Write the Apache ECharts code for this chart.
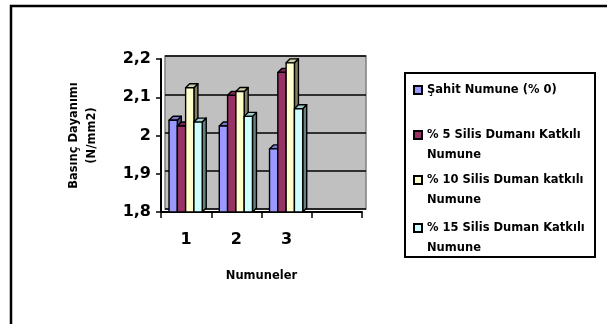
<!DOCTYPE html>
<html><head><meta charset="utf-8">
<script src="https://cdn.jsdelivr.net/npm/echarts@6/dist/echarts.min.js"></script>
<style>html,body{margin:0;padding:0;background:#fff}#c{width:607px;height:324px}</style>
</head><body><div id="c"></div>
<script>
var categories = ['1', '2', '3', ''];
var seriesNames = ['Şahit Numune (% 0)', '% 5 Silis Dumanı Katkılı Numune', '% 10 Silis Duman katkılı Numune', '% 15 Silis Duman Katkılı Numune'];
var legendLabels = ['Şahit Numune (% 0)', '\n% 5 Silis Dumanı Katkılı\nNumune', '\n% 10 Silis Duman katkılı\nNumune', '\n% 15 Silis Duman Katkılı\nNumune'];
var sahit = [2.04, 2.025, 1.965];
var silis5 = [2.025, 2.105, 2.165];
var silis10 = [2.125, 2.115, 2.19];
var silis15 = [2.035, 2.05, 2.07];
var yTickLabels = ['1,8', '1,9', '2', '2,1', '2,2'];
var yMin = 1.8, yMax = 2.2, yStep = 0.1;

var values = [sahit, silis5, silis10, silis15];
var faceColors = ['#9999FF', '#993366', '#FFFFCC', '#CCFFFF'];
var sideColors = ['#4D4D80', '#4D1A33', '#808066', '#668080'];
var topColors = ['#7A7ACC', '#7A2952', '#CCCCA3', '#A3CCCC'];
var FONT = '"DejaVu Sans", Arial, sans-serif';

function makeRender(si) {
  return function (params, api) {
    var ci = api.value(0), v = api.value(1);
    var p = api.coord([ci, v]);
    var b = api.coord([ci, yMin]);
    var bw = 8.3, d = 4;
    var x0 = p[0] - 2 * bw + si * bw - 0.5;
    var x1 = x0 + bw;
    var yt = p[1], yb = b[1];
    var st = { stroke: '#000', lineWidth: 1.4, lineJoin: 'round' };
    return {
      type: 'group',
      children: [
        { type: 'polygon', shape: { points: [[x1, yt], [x1 + d, yt - d], [x1 + d, yb - d], [x1, yb]] },
          style: Object.assign({ fill: sideColors[si] }, st) },
        { type: 'polygon', shape: { points: [[x0, yt], [x0 + d, yt - d], [x1 + d, yt - d], [x1, yt]] },
          style: Object.assign({ fill: topColors[si] }, st) },
        { type: 'rect', shape: { x: x0, y: yt, width: bw, height: yb - yt },
          style: Object.assign({ fill: faceColors[si] }, st) }
      ]
    };
  };
}

var series = values.map(function (arr, si) {
  return {
    type: 'custom',
    name: seriesNames[si],
    xAxisIndex: 1, yAxisIndex: 1,
    itemStyle: { color: faceColors[si], borderColor: '#000', borderWidth: 1 },
    renderItem: makeRender(si),
    encode: { x: 0, y: 1 },
    data: arr.map(function (v, i) { return [i, v]; }),
    clip: false
  };
});

var legendTops = [80, 105, 150, 198];
var legends = seriesNames.map(function (n, i) {
  return {
    data: [n],
    left: 413, top: legendTops[i],
    padding: 0,
    orient: 'vertical',
    icon: 'rect',
    itemWidth: 8, itemHeight: 8,
    selectedMode: false,
    formatter: function (name) { return legendLabels[seriesNames.indexOf(name)]; },
    textStyle: {
      fontFamily: FONT, fontWeight: 'bold', fontSize: 11.5, color: '#000', lineHeight: 20
    }
  };
});

var chart = echarts.init(document.getElementById('c'), null, { renderer: 'canvas' });
chart.setOption({
  animation: false,
  backgroundColor: '#fff',
  grid: [
    { left: 165, right: 241, top: 56, bottom: 115, show: true, backgroundColor: '#C0C0C0', borderColor: '#808080', borderWidth: 1.5 },
    { left: 161, right: 245, top: 59, bottom: 112 }
  ],
  xAxis: [
    { type: 'category', gridIndex: 0, data: categories, show: false },
    { type: 'category', gridIndex: 1, data: categories, boundaryGap: true,
      axisLine: { lineStyle: { color: '#000', width: 2 } },
      axisTick: { show: true, length: 6, interval: 0, lineStyle: { color: '#000', width: 1.5 } },
      axisLabel: { fontFamily: FONT, fontWeight: 'bold', fontSize: 16, color: '#000', margin: 20, interval: 0 },
      name: 'Numuneler', nameLocation: 'middle', nameGap: 58,
      nameTextStyle: { fontFamily: FONT, fontWeight: 'bold', fontSize: 11.5, color: '#000' }
    }
  ],
  yAxis: [
    { type: 'value', gridIndex: 0, min: yMin, max: yMax, interval: yStep,
      axisLine: { show: false }, axisTick: { show: false }, axisLabel: { show: false },
      splitLine: { show: true, lineStyle: { color: '#000', width: 1.5 } } },
    { type: 'value', gridIndex: 1, min: yMin, max: yMax, interval: yStep,
      axisLine: { show: true, lineStyle: { color: '#000', width: 2 } },
      axisTick: { show: true, length: 5, lineStyle: { color: '#000', width: 1.5 } },
      splitLine: { show: false },
      axisLabel: { fontFamily: FONT, fontWeight: 'bold', fontSize: 16, color: '#000', margin: 10,
        formatter: function (v) { return yTickLabels[Math.round((v - yMin) / yStep)]; } },
      name: 'Basınç Dayanımı\n(N/mm2)', nameLocation: 'middle', nameGap: 60, nameRotate: 90,
      nameTextStyle: { fontFamily: FONT, fontWeight: 'bold', fontSize: 11.5, color: '#000', lineHeight: 18, align: 'center' }
    }
  ],
  legend: legends,
  graphic: [
    { type: 'rect', shape: { x: 11, y: 6, width: 640, height: 360 }, style: { fill: 'none', stroke: '#000', lineWidth: 2.5 }, silent: true, z: -1 },
    { type: 'rect', shape: { x: 405, y: 73, width: 190, height: 184 }, style: { fill: 'none', stroke: '#000', lineWidth: 2 }, silent: true }
  ],
  series: series
});
</script></body></html>
